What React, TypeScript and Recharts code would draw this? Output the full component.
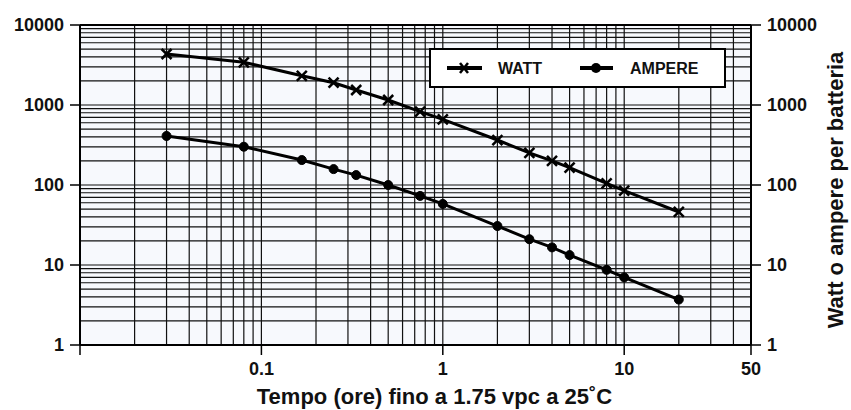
import React from 'react'
import { LineChart, Line, XAxis, YAxis, ReferenceLine, ReferenceArea, Legend } from 'recharts'

// tempo di scarica (ore)
const times = [0.03, 0.08, 0.167, 0.25, 0.333, 0.5, 0.75, 1, 2, 3, 4, 5, 8, 10, 20]
const watt = [4340, 3420, 2320, 1900, 1540, 1155, 826, 662, 365, 252, 200, 165, 105, 85, 46]
const ampere = [410, 301, 205, 158, 133, 100, 73, 58, 30.7, 21, 16.6, 13.3, 8.7, 7.0, 3.7]

const xTicks = [0.01, 0.1, 1, 10, 50]
const yTicks = [1, 10, 100, 1000, 10000]
const xDecades = [0.01, 0.1, 1, 10]
const yDecades = [1, 10, 100, 1000]
const steps = [1, 2, 3, 4, 5, 6, 7, 8, 9]

const gridX = xDecades.flatMap(d => steps.map(s => +(d * s).toPrecision(3))).filter(v => v <= 50).concat([50])
const gridY = yDecades.flatMap(d => steps.map(s => d * s)).concat([10000])

const data = times.map((t, i) => ({ t, watt: watt[i], ampere: ampere[i] }))

const FONT = '"Liberation Sans", Arial, Helvetica, sans-serif'
const tickStyle = { fill: '#111', fontSize: 18, fontWeight: 'bold', fontFamily: FONT }

const CrossDot = (props: any) => {
  const { cx, cy, index } = props
  if (cx == null || cy == null) return null
  const s = 5
  return (
    <g key={`w-${index}`}>
      <line x1={cx - s} y1={cy - s} x2={cx + s} y2={cy + s} stroke="#000" strokeWidth={2.5} />
      <line x1={cx - s} y1={cy + s} x2={cx + s} y2={cy - s} stroke="#000" strokeWidth={2.5} />
    </g>
  )
}

const LegendBox = () => (
  <div style={{ width: 297, height: 40, boxSizing: 'border-box', border: '2px solid #000', background: '#fff' }}>
    <svg width={293} height={36} style={{ display: 'block' }}>
      <line x1={16} y1={18} x2={51} y2={18} stroke="#000" strokeWidth={4} />
      <line x1={29} y1={13} x2={37} y2={23} stroke="#000" strokeWidth={2.5} />
      <line x1={29} y1={23} x2={37} y2={13} stroke="#000" strokeWidth={2.5} />
      <text x={67} y={24} fontFamily={FONT} fontWeight="bold" fontSize={16} fill="#111">WATT</text>
      <line x1={149} y1={18} x2={182} y2={18} stroke="#000" strokeWidth={4} />
      <circle cx={165} cy={18} r={5} fill="#000" />
      <text x={199} y={24} fontFamily={FONT} fontWeight="bold" fontSize={16} fill="#111">AMPERE</text>
    </svg>
  </div>
)

const RightTitle = () => (
  <text x={843} y={190} transform="rotate(-90, 843, 190)" textAnchor="middle"
    fontFamily={FONT} fontWeight="bold" fontSize={22} fill="#111">
    Watt o ampere per batteria
  </text>
)

export default function App() {
  return (
    <div style={{ position: 'absolute', left: 0, top: 0, background: '#fff' }}>
      <LineChart width={851} height={410} data={data} margin={{ top: 25, right: 0, bottom: 0, left: 0 }}>
        <XAxis dataKey="t" type="number" scale="log" domain={[0.01, 50]} ticks={xTicks} allowDataOverflow
          height={65} tickSize={10} tickMargin={7} tick={tickStyle}
          tickFormatter={(v: number) => (v === 0.01 ? '' : String(v))}
          axisLine={{ stroke: '#000', strokeWidth: 2 }} tickLine={{ stroke: '#000', strokeWidth: 1.5 }}
          label={{ value: 'Tempo (ore) fino a 1.75 vpc a 25˚C', position: 'insideBottom', offset: 6, dx: 19,
            style: { fill: '#111', fontSize: 22, fontWeight: 'bold', fontFamily: FONT } }} />
        <YAxis yAxisId="left" type="number" scale="log" domain={[1, 10000]} ticks={yTicks} allowDataOverflow
          width={80} tickSize={10} tickMargin={6} tick={tickStyle}
          axisLine={{ stroke: '#000', strokeWidth: 2 }} tickLine={{ stroke: '#000', strokeWidth: 1.5 }} />
        <YAxis yAxisId="right" orientation="right" type="number" scale="log" domain={[1, 10000]} ticks={yTicks}
          allowDataOverflow width={100} tickSize={10} tickMargin={6} tick={tickStyle}
          axisLine={{ stroke: '#000', strokeWidth: 2 }} tickLine={{ stroke: '#000', strokeWidth: 1.5 }}
          label={{ content: () => <RightTitle /> }} />
        <ReferenceArea yAxisId="left" x1={0.01} x2={50} y1={1} y2={10000} fill="#f7f9fd" fillOpacity={1} stroke="none" />
        {gridX.map(v => (
          <ReferenceLine key={`gx-${v}`} yAxisId="left" x={v} stroke="#111" strokeWidth={1.2} />
        ))}
        {gridY.map(v => (
          <ReferenceLine key={`gy-${v}`} yAxisId="left" y={v} stroke="#111" strokeWidth={1.2} />
        ))}
        <ReferenceLine yAxisId="left" y={10000} stroke="#000" strokeWidth={2} />
        <Line yAxisId="left" dataKey="watt" stroke="#000" strokeWidth={3} dot={CrossDot} isAnimationActive={false} />
        <Line yAxisId="left" dataKey="ampere" stroke="#000" strokeWidth={3}
          dot={{ r: 4.5, fill: '#000', stroke: '#000', strokeWidth: 1 }} isAnimationActive={false} />
        <Legend layout="vertical" verticalAlign="middle" align="center" content={() => <LegendBox />}
          wrapperStyle={{ left: 429, top: 48, width: 297, height: 40 }} />
      </LineChart>
    </div>
  )
}
